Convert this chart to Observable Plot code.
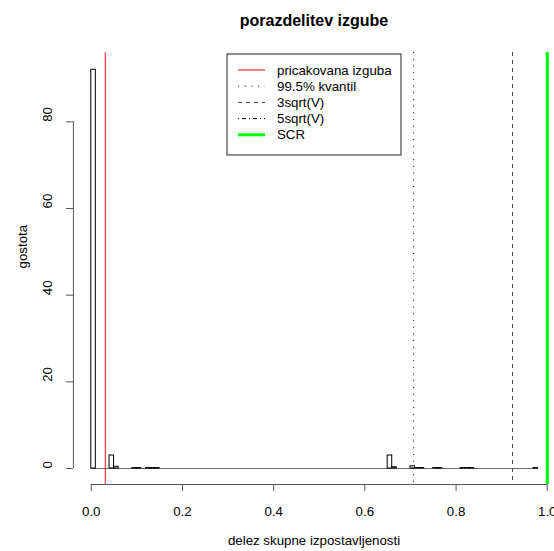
<!DOCTYPE html>
<html><head><meta charset="utf-8">
<script src="https://cdn.jsdelivr.net/npm/d3@7"></script>
<script src="https://cdn.jsdelivr.net/npm/@observablehq/plot@0.6"></script>
<style>
html,body{margin:0;padding:0;overflow:hidden;background:#fff;}
#wrap{position:relative;width:554px;height:551px;overflow:hidden;}
</style></head><body><div id="wrap"></div>
<script>
// ---- data ----
const title = "porazdelitev izgube";
const xLabel = "delez skupne izpostavljenosti";
const yLabel = "gostota";
const binWidth = 0.01;
const binStart   = [0.00, 0.04, 0.05, 0.09, 0.10, 0.12, 0.13, 0.14, 0.65, 0.66, 0.70, 0.71, 0.72, 0.75, 0.76, 0.81, 0.82, 0.83, 0.97];
const binDensity = [92,   3.0,  0.4,  0.1,  0.1,  0.1,  0.1,  0.1,  3.0,  0.3,  0.5,  0.1,  0.1,  0.1,  0.1,  0.1,  0.1,  0.1,  0.1];
const histRange = [0, 0.98];
const xTicks = [0, 0.2, 0.4, 0.6, 0.8, 1.0];
const yTicks = [0, 20, 40, 60, 80];
const lineNames  = ["pricakovana izguba", "99.5% kvantil", "3sqrt(V)", "5sqrt(V)", "SCR"];
const lineValues = [0.031, 0.707, 0.924, 1.52, 1.0];
const lineColors = ["red", "black", "#444", "black", "#00ff00"];
const lineDash   = [null, "1 5.7", "4 4", "1 3 4 3", null];
const lineWidths = [1.4, 1, 1, 1, 3];
const lineOpacity = [0.7, 1, 1, 1, 1];

// ---- build ----
const bins = binStart.map((s, i) => ({x1: s, x2: s + binWidth, d: binDensity[i]}));
const lines = lineNames.map((n, i) => ({name: n, v: lineValues[i], color: lineColors[i], dash: lineDash[i], w: lineWidths[i], op: lineOpacity[i]}));
const xDom = [-0.0392, 1.0192];
const yDom = [-3.69, 95.99];
const FONT = "'Liberation Sans', Arial, sans-serif";

const chart = Plot.plot({
  width: 554, height: 551,
  marginLeft: 73, marginRight: 0, marginTop: 52, marginBottom: 67,
  style: {fontFamily: FONT, fontSize: "13.3px", background: "#fff", overflow: "hidden", color: "#000"},
  x: {domain: xDom, range: [72.9, 555.5]},
  y: {domain: yDom},
  marks: [
    Plot.ruleY([0], {x1: histRange[0], x2: histRange[1], stroke: "#666"}),
    Plot.rect(bins, {x1: "x1", x2: "x2", y1: 0, y2: "d", fill: "none", stroke: "black"}),
    ...lines.map(l => Plot.ruleX([l.v], {stroke: l.color, strokeOpacity: l.op, strokeDasharray: l.dash, strokeWidth: l.w})),
    Plot.ruleY([yDom[0]], {x1: xTicks[0], x2: xTicks[xTicks.length - 1], stroke: "#555"}),
    Plot.axisX({ticks: xTicks, tickSize: 7, tickPadding: 15, tickFormat: d3.format(".1f"), label: null, stroke: "#555"}),
    Plot.ruleX([xDom[0]], {y1: yTicks[0], y2: yTicks[yTicks.length - 1], stroke: "#555"}),
    Plot.axisY({ticks: yTicks, tickSize: 7, tickFormat: () => "", label: null, stroke: "#555"}),
    Plot.text(yTicks, {y: d => d, text: d => String(d), frameAnchor: "left", lineAnchor: "middle", dx: -26, rotate: -90}),
    Plot.text([title], {text: d => d, frameAnchor: "top", lineAnchor: "middle", dy: -32, fontWeight: "bold", fontSize: 16}),
    Plot.text([xLabel], {text: d => d, frameAnchor: "bottom", lineAnchor: "middle", dy: 56}),
    Plot.text([yLabel], {text: d => d, frameAnchor: "left", lineAnchor: "middle", dx: -51, rotate: -90})
  ]
});
const wrap = document.getElementById("wrap");
wrap.appendChild(chart);

// ---- legend (overlay) ----
const ns = "http://www.w3.org/2000/svg";
const leg = document.createElementNS(ns, "svg");
leg.setAttribute("width", 176); leg.setAttribute("height", 103);
leg.style.cssText = "position:absolute;left:226px;top:53px;font-family:" + FONT + ";font-size:13.3px;";
const box = document.createElementNS(ns, "rect");
box.setAttribute("x", 1); box.setAttribute("y", 1); box.setAttribute("width", 174); box.setAttribute("height", 101);
box.setAttribute("fill", "#fff"); box.setAttribute("stroke", "#222");
leg.appendChild(box);
lines.forEach((l, i) => {
  const cy = 17 + 16.2 * i;
  const ln = document.createElementNS(ns, "line");
  ln.setAttribute("x1", 12); ln.setAttribute("x2", 39); ln.setAttribute("y1", cy); ln.setAttribute("y2", cy);
  ln.setAttribute("stroke", l.color); ln.setAttribute("stroke-width", Math.round(l.w));
  if (l.dash) ln.setAttribute("stroke-dasharray", l.dash);
  leg.appendChild(ln);
  const tx = document.createElementNS(ns, "text");
  tx.setAttribute("x", 51); tx.setAttribute("y", cy); tx.setAttribute("dy", "0.35em");
  tx.textContent = l.name;
  leg.appendChild(tx);
});
wrap.appendChild(leg);
</script></body></html>
